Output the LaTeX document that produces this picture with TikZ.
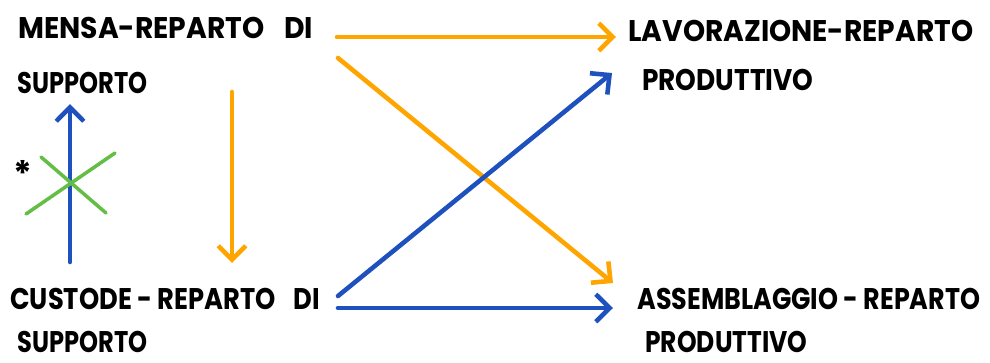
\documentclass[tikz,border=0pt]{standalone}
\usepackage{fontspec}
\setmainfont{Poppins}
\usepackage{graphicx}
\usepackage{tikz}
\usetikzlibrary{arrows.meta, positioning, calc}
\definecolor{flowor}{RGB}{255,165,0}
\definecolor{flowbl}{RGB}{30,80,190}
\definecolor{cutgr}{RGB}{100,190,70}
% squeeze a label to the width it has in the sketch
\newcommand{\fitto}[2]{\resizebox{#1}{\height}{#2}}

\begin{document}
\begin{tikzpicture}[
    x=0.02cm, y=-0.02cm,
    label/.style={anchor=base west, inner sep=0pt,
                  font=\fontsize{17}{20}\selectfont\bfseries},
    arrow/.style={-{Straight Barb[length=0.28cm, width=0.55cm]},
                  line width=2.6pt, line cap=round, line join=round},
    oarrow/.style={arrow, flowor},
    barrow/.style={arrow, flowbl},
    cutline/.style={cutgr, line width=2pt, line cap=round}
  ]
  \useasboundingbox (0,0) rectangle (990,362);
  % department labels
  \node[label] (mensaA) at (18,38)  {\fitto{5.9cm}{MENSA-REPARTO\hspace{0.7em}DI}};
  \node[label] (mensaB) at (17,93)  {\fitto{2.6cm}{SUPPORTO}};
  \node[label] (lavA)   at (628,41) {\fitto{6.9cm}{LAVORAZIONE-REPARTO}};
  \node[label] (lavB)   at (642,90) {\fitto{3.42cm}{PRODUTTIVO}};
  \node[label] (custA)  at (10,309) {\fitto{6.2cm}{CUSTODE - REPARTO\hspace{0.7em}DI}};
  \node[label] (custB)  at (17,352) {\fitto{2.6cm}{SUPPORTO}};
  \node[label] (assA)   at (637,309) {\fitto{6.86cm}{ASSEMBLAGGIO - REPARTO}};
  \node[label] (assB)   at (645,352) {\fitto{3.24cm}{PRODUTTIVO}};
  % orange flows (mensa)
  \draw[oarrow] ($(mensaA.base west)+(319,-1)$) -- ($(lavA.base west)+(-12,-4)$);
  \draw[oarrow] ($(mensaA.base west)+(320,20)$) -- ($(assA.base west)+(-24,-26)$);
  \draw[oarrow] ($(mensaB.base west)+(215,-1)$) -- ($(custA.base west)+(222,-46)$);
  % blue flows (custode)
  \draw[barrow] ($(custA.base west)+(328,-13)$) -- ($(lavB.base west)+(-30,-17)$);
  \draw[barrow] ($(custA.base west)+(328,-1)$) -- ($(assA.base west)+(-24,-1)$);
  \draw[barrow] ($(custA.base west)+(60,-47)$)
    -- coordinate[pos=0.5] (cut) ($(mensaB.base west)+(53,11)$);
  % crossed-out back flow
  \draw[cutline] ($(cut)+(-44,31)$) -- ($(cut)+(45,-30)$);
  \draw[cutline] ($(cut)+(-29,-26)$) -- ($(cut)+(36,30)$);
  \node[font=\fontsize{20}{20}\selectfont\bfseries, inner sep=0pt]
    (star) at ($(cut)+(-47,-10)$) {*};
\end{tikzpicture}
\end{document}
